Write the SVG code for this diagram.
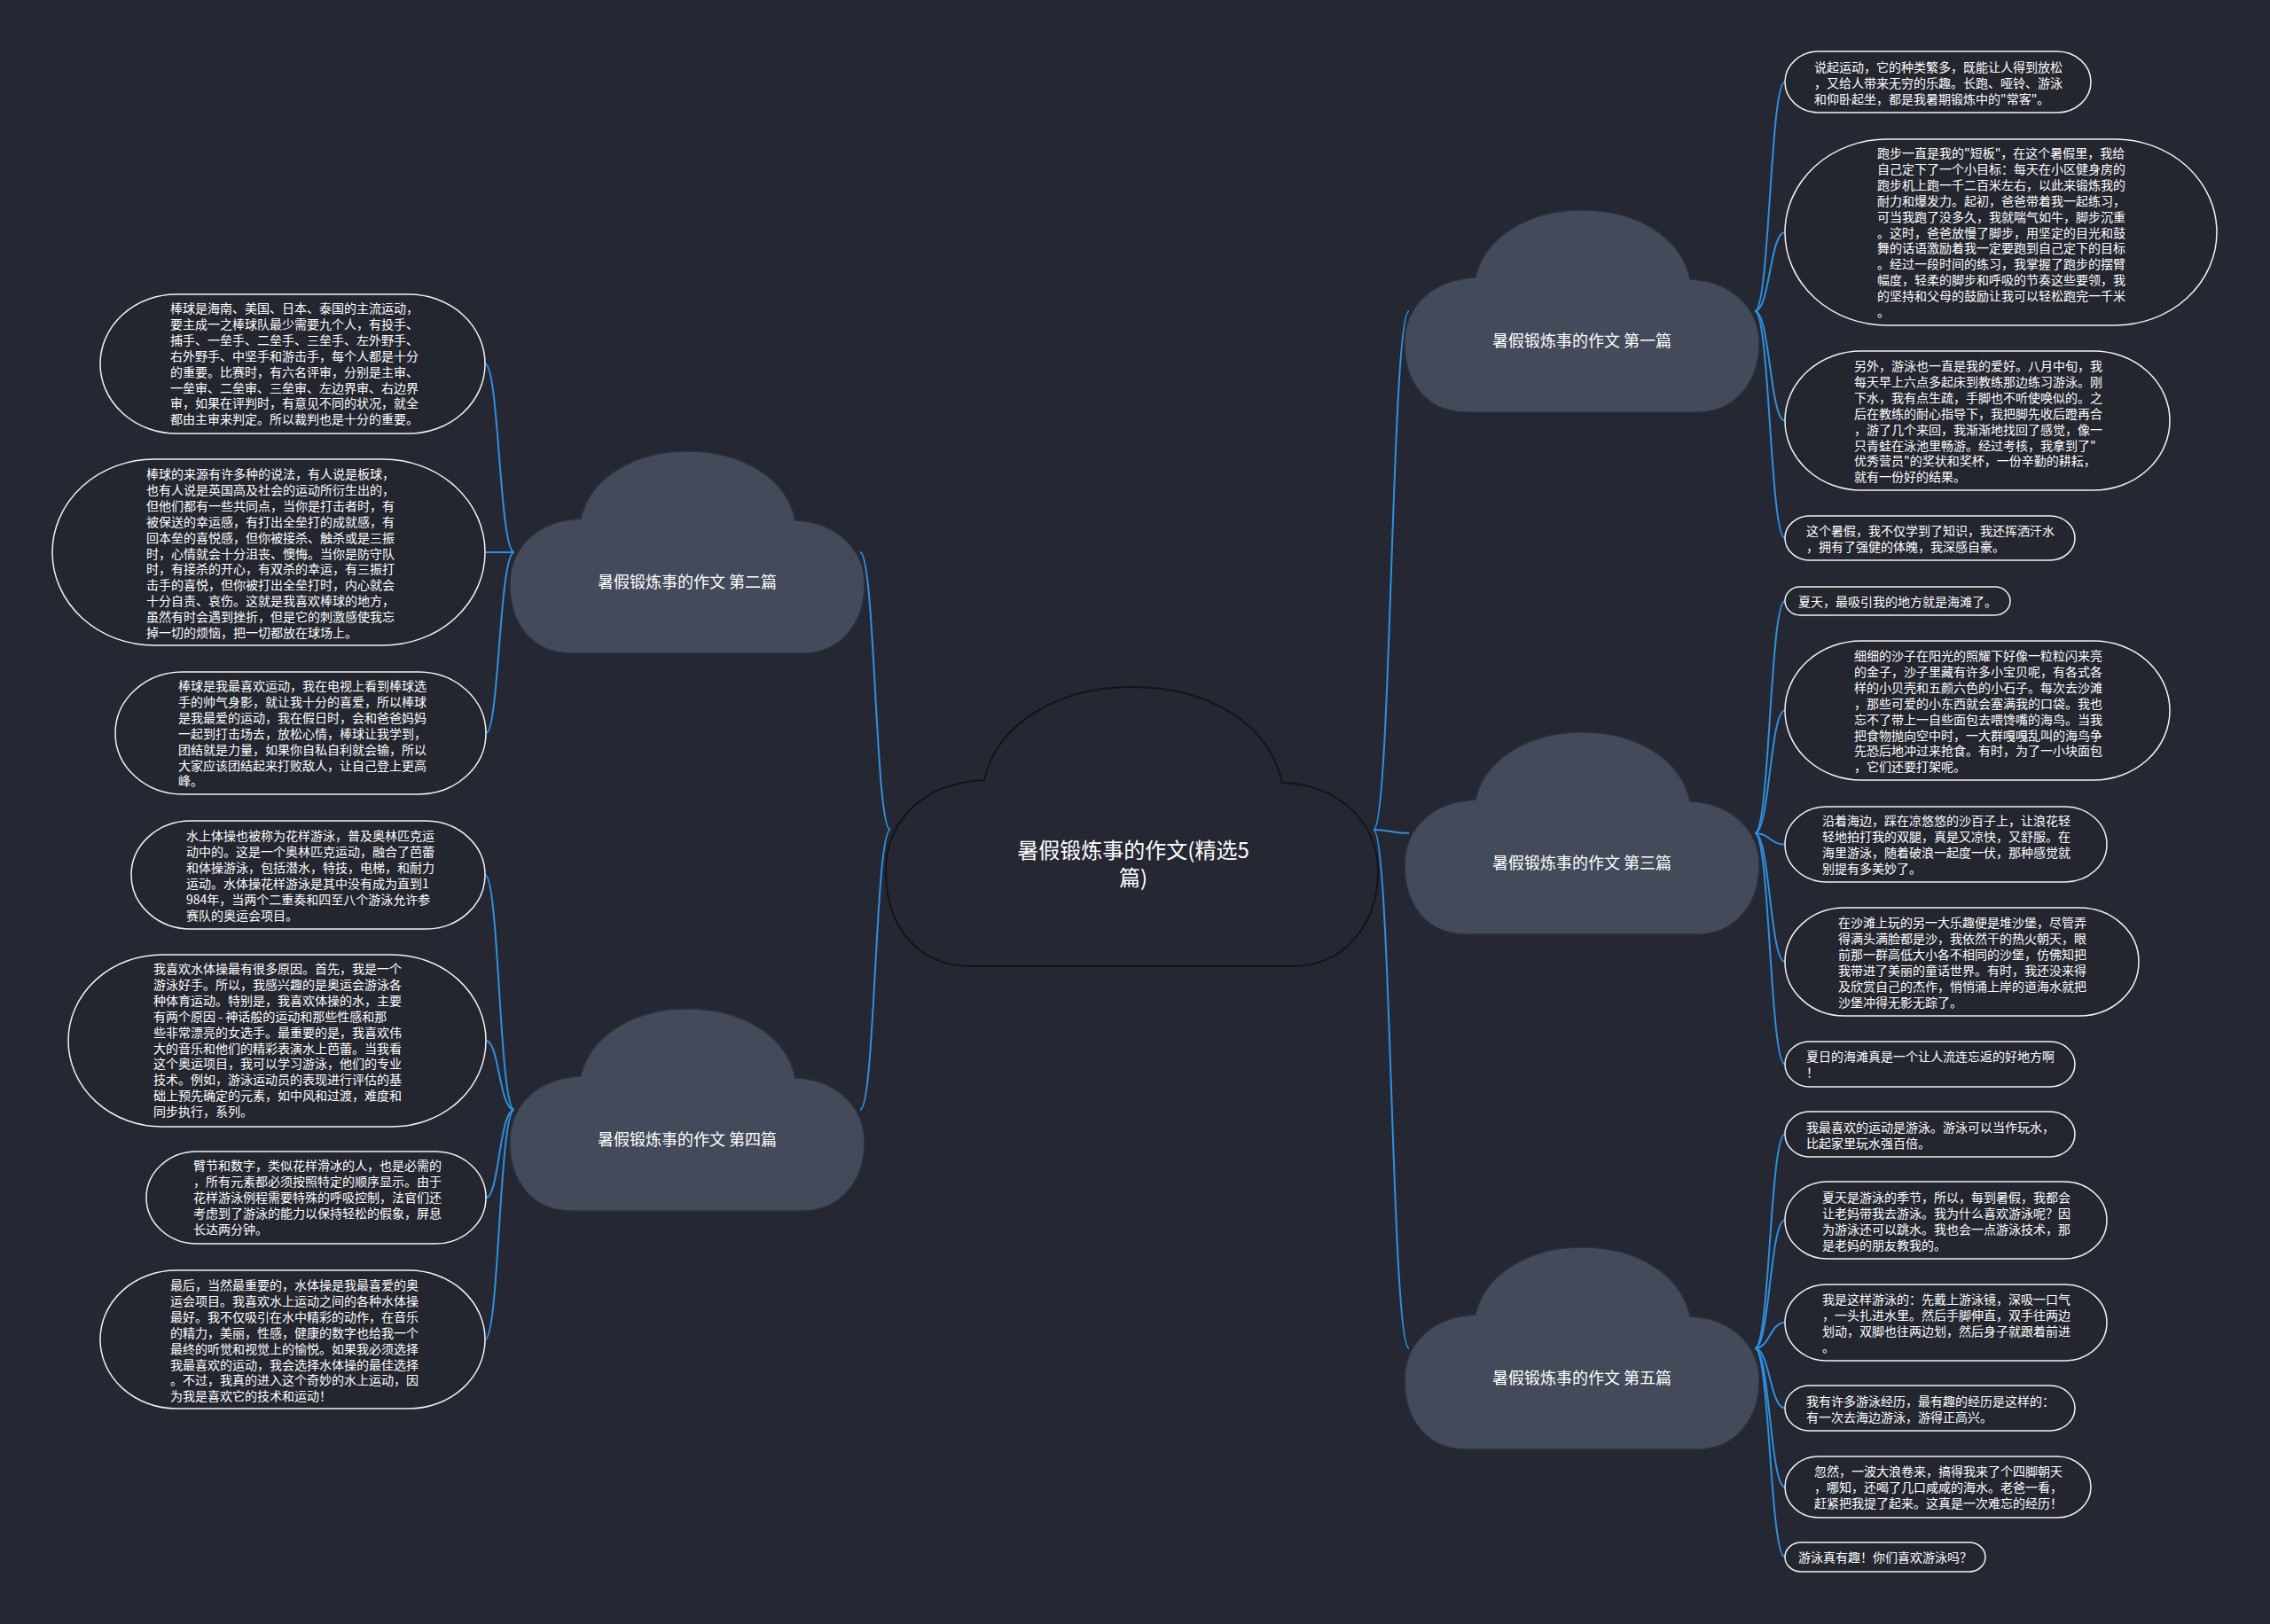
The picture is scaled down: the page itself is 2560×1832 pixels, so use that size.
<svg xmlns="http://www.w3.org/2000/svg" width="2560" height="1832" viewBox="0 0 2560 1832">
<defs>
<style>
.bg{fill:#252833}
.cloud{fill:#434a5a;stroke:#2b303c;stroke-width:1.5}
.ccloud{fill:#252833;stroke:#121419;stroke-width:2}
.leaf{fill:#23262f;stroke:#f2f2f2;stroke-width:1.5}
.lt{font-family:"Noto Sans CJK SC","Noto Sans",sans-serif;font-size:14px;fill:#ffffff}
.cl{font-family:"Noto Sans CJK SC","Noto Sans",sans-serif;font-size:18px;fill:#ffffff;text-anchor:middle}
.ct{font-family:"Noto Sans CJK SC","Noto Sans",sans-serif;font-size:24px;fill:#ffffff;text-anchor:middle}
.edge{fill:none;stroke:#2f8fe0;stroke-width:2}
</style>
<path id="cloudShape" d="M 70,228 C 25,228 0,195 0,150 C 0,108 32,78 80,76 C 90,30 140,0 200,0 C 262,0 312,30 322,78 C 370,80 400,112 400,150 C 400,195 372,228 330,228 Z"/>
</defs>
<rect class="bg" x="0" y="0" width="2560" height="1832"/>

<g id="connectors">
<path class="edge" d="M 1549,936 C 1569,936 1569,351 1589,351"/>
<path class="edge" d="M 1549,936 C 1569,936 1569,940 1589,940"/>
<path class="edge" d="M 1549,936 C 1569,936 1569,1521 1589,1521"/>
<path class="edge" d="M 1004,936 C 987,936 987,623 970,623"/>
<path class="edge" d="M 1004,936 C 987,936 987,1252 970,1252"/>

<path class="edge" d="M 1979,351 C 1996,351 1996,92.5 2013,92.5"/>
<path class="edge" d="M 1979,351 C 1996,351 1996,262 2013,262"/>
<path class="edge" d="M 1979,351 C 1996,351 1996,474.5 2013,474.5"/>
<path class="edge" d="M 1979,351 C 1996,351 1996,607 2013,607"/>

<path class="edge" d="M 1979,940 C 1996,940 1996,678 2013,678"/>
<path class="edge" d="M 1979,940 C 1996,940 1996,801.5 2013,801.5"/>
<path class="edge" d="M 1979,940 C 1996,940 1996,952.5 2013,952.5"/>
<path class="edge" d="M 1979,940 C 1996,940 1996,1085 2013,1085"/>
<path class="edge" d="M 1979,940 C 1996,940 1996,1200.5 2013,1200.5"/>

<path class="edge" d="M 1979,1521 C 1996,1521 1996,1279.5 2013,1279.5"/>
<path class="edge" d="M 1979,1521 C 1996,1521 1996,1376.5 2013,1376.5"/>
<path class="edge" d="M 1979,1521 C 1996,1521 1996,1492 2013,1492"/>
<path class="edge" d="M 1979,1521 C 1996,1521 1996,1588.5 2013,1588.5"/>
<path class="edge" d="M 1979,1521 C 1996,1521 1996,1677.5 2013,1677.5"/>
<path class="edge" d="M 1979,1521 C 1996,1521 1996,1756.5 2013,1756.5"/>

<path class="edge" d="M 580,623 C 563,623 563,410.5 547,410.5"/>
<path class="edge" d="M 580,623 C 563,623 563,623 547,623"/>
<path class="edge" d="M 580,623 C 563,623 563,827 548,827"/>

<path class="edge" d="M 580,1252 C 563,1252 563,987 547,987"/>
<path class="edge" d="M 580,1252 C 563,1252 563,1174 548,1174"/>
<path class="edge" d="M 580,1252 C 563,1252 563,1351 548,1351"/>
<path class="edge" d="M 580,1252 C 563,1252 563,1511 547,1511"/>
</g>

<g id="center">
<path class="ccloud" transform="translate(999,775) scale(1.3875,1.3816)" vector-effect="non-scaling-stroke" d="M 70,228 C 25,228 0,195 0,150 C 0,108 32,78 80,76 C 90,30 140,0 200,0 C 262,0 312,30 322,78 C 370,80 400,112 400,150 C 400,195 372,228 330,228 Z"/>
<text class="ct" x="1278" y="968">暑假锻炼事的作文(精选5</text>
<text class="ct" x="1278" y="999">篇)</text>
</g>

<g id="branch1">
<use href="#cloudShape" class="cloud" transform="translate(1584,237)"/>
<text class="cl" x="1784" y="391">暑假锻炼事的作文 第一篇</text>
</g>
<g id="branch3">
<use href="#cloudShape" class="cloud" transform="translate(1584,826)"/>
<text class="cl" x="1784" y="980">暑假锻炼事的作文 第三篇</text>
</g>
<g id="branch5">
<use href="#cloudShape" class="cloud" transform="translate(1584,1407)"/>
<text class="cl" x="1784" y="1561">暑假锻炼事的作文 第五篇</text>
</g>
<g id="branch2">
<use href="#cloudShape" class="cloud" transform="translate(575,509)"/>
<text class="cl" x="775" y="663">暑假锻炼事的作文 第二篇</text>
</g>
<g id="branch4">
<use href="#cloudShape" class="cloud" transform="translate(575,1138)"/>
<text class="cl" x="775" y="1292">暑假锻炼事的作文 第四篇</text>
</g>

<g id="leaf-r1-1">
<rect class="leaf" x="2013" y="58" width="345" height="69" rx="38" ry="34.5"/>
<text class="lt" x="2046" y="81"><tspan x="2046" dy="0">说起运动，它的种类繁多，既能让人得到放松</tspan><tspan x="2046" dy="17.9">，又给人带来无穷的乐趣。长跑、哑铃、游泳</tspan><tspan x="2046" dy="17.9">和仰卧起坐，都是我暑期锻炼中的"常客"。</tspan></text>
</g>
<g id="leaf-r1-2">
<rect class="leaf" x="2013" y="157" width="487" height="210" rx="115" ry="105"/>
<text class="lt" x="2117" y="178"><tspan x="2117" dy="0">跑步一直是我的"短板"，在这个暑假里，我给</tspan><tspan x="2117" dy="17.9">自己定下了一个小目标：每天在小区健身房的</tspan><tspan x="2117" dy="17.9">跑步机上跑一千二百米左右，以此来锻炼我的</tspan><tspan x="2117" dy="17.9">耐力和爆发力。起初，爸爸带着我一起练习，</tspan><tspan x="2117" dy="17.9">可当我跑了没多久，我就喘气如牛，脚步沉重</tspan><tspan x="2117" dy="17.9">。这时，爸爸放慢了脚步，用坚定的目光和鼓</tspan><tspan x="2117" dy="17.9">舞的话语激励着我一定要跑到自己定下的目标</tspan><tspan x="2117" dy="17.9">。经过一段时间的练习，我掌握了跑步的摆臂</tspan><tspan x="2117" dy="17.9">幅度，轻柔的脚步和呼吸的节奏这些要领，我</tspan><tspan x="2117" dy="17.9">的坚持和父母的鼓励让我可以轻松跑完一千米</tspan><tspan x="2117" dy="17.9">。</tspan></text>
</g>
<g id="leaf-r1-3">
<rect class="leaf" x="2013" y="396" width="434" height="157" rx="86" ry="78.5"/>
<text class="lt" x="2091" y="418"><tspan x="2091" dy="0">另外，游泳也一直是我的爱好。八月中旬，我</tspan><tspan x="2091" dy="17.9">每天早上六点多起床到教练那边练习游泳。刚</tspan><tspan x="2091" dy="17.9">下水，我有点生疏，手脚也不听使唤似的。之</tspan><tspan x="2091" dy="17.9">后在教练的耐心指导下，我把脚先收后蹬再合</tspan><tspan x="2091" dy="17.9">，游了几个来回，我渐渐地找回了感觉，像一</tspan><tspan x="2091" dy="17.9">只青蛙在泳池里畅游。经过考核，我拿到了"</tspan><tspan x="2091" dy="17.9">优秀营员"的奖状和奖杯，一份辛勤的耕耘，</tspan><tspan x="2091" dy="17.9">就有一份好的结果。</tspan></text>
</g>
<g id="leaf-r1-4">
<rect class="leaf" x="2013" y="582" width="327" height="50" rx="28" ry="25"/>
<text class="lt" x="2037" y="604"><tspan x="2037" dy="0">这个暑假，我不仅学到了知识，我还挥洒汗水</tspan><tspan x="2037" dy="17.9">，拥有了强健的体魄，我深感自豪。</tspan></text>
</g>

<g id="leaf-r3-1">
<rect class="leaf" x="2013" y="662" width="254" height="32" rx="17" ry="16"/>
<text class="lt" x="2028" y="684">夏天，最吸引我的地方就是海滩了。</text>
</g>
<g id="leaf-r3-2">
<rect class="leaf" x="2013" y="723" width="434" height="157" rx="86" ry="78.5"/>
<text class="lt" x="2091" y="745"><tspan x="2091" dy="0">细细的沙子在阳光的照耀下好像一粒粒闪来亮</tspan><tspan x="2091" dy="17.9">的金子，沙子里藏有许多小宝贝呢，有各式各</tspan><tspan x="2091" dy="17.9">样的小贝壳和五颜六色的小石子。每次去沙滩</tspan><tspan x="2091" dy="17.9">，那些可爱的小东西就会塞满我的口袋。我也</tspan><tspan x="2091" dy="17.9">忘不了带上一自些面包去喂馋嘴的海鸟。当我</tspan><tspan x="2091" dy="17.9">把食物抛向空中时，一大群嘎嘎乱叫的海鸟争</tspan><tspan x="2091" dy="17.9">先恐后地冲过来抢食。有时，为了一小块面包</tspan><tspan x="2091" dy="17.9">，它们还要打架呢。</tspan></text>
</g>
<g id="leaf-r3-3">
<rect class="leaf" x="2013" y="910" width="363" height="85" rx="47" ry="42.5"/>
<text class="lt" x="2055" y="931"><tspan x="2055" dy="0">沿着海边，踩在凉悠悠的沙百子上，让浪花轻</tspan><tspan x="2055" dy="17.9">轻地拍打我的双腿，真是又凉快，又舒服。在</tspan><tspan x="2055" dy="17.9">海里游泳，随着破浪一起度一伏，那种感觉就</tspan><tspan x="2055" dy="17.9">别提有多美妙了。</tspan></text>
</g>
<g id="leaf-r3-4">
<rect class="leaf" x="2013" y="1024" width="399" height="122" rx="67" ry="61"/>
<text class="lt" x="2073" y="1046"><tspan x="2073" dy="0">在沙滩上玩的另一大乐趣便是堆沙堡，尽管弄</tspan><tspan x="2073" dy="17.9">得满头满脸都是沙，我依然干的热火朝天，眼</tspan><tspan x="2073" dy="17.9">前那一群高低大小各不相同的沙堡，仿佛知把</tspan><tspan x="2073" dy="17.9">我带进了美丽的童话世界。有时，我还没来得</tspan><tspan x="2073" dy="17.9">及欣赏自己的杰作，悄悄涌上岸的道海水就把</tspan><tspan x="2073" dy="17.9">沙堡冲得无影无踪了。</tspan></text>
</g>
<g id="leaf-r3-5">
<rect class="leaf" x="2013" y="1175" width="327" height="51" rx="28" ry="25.5"/>
<text class="lt" x="2037" y="1197"><tspan x="2037" dy="0">夏日的海滩真是一个让人流连忘返的好地方啊</tspan><tspan x="2037" dy="17.9">！</tspan></text>
</g>

<g id="leaf-r5-1">
<rect class="leaf" x="2013" y="1254" width="327" height="51" rx="28" ry="25.5"/>
<text class="lt" x="2037" y="1277"><tspan x="2037" dy="0">我最喜欢的运动是游泳。游泳可以当作玩水，</tspan><tspan x="2037" dy="17.9">比起家里玩水强百倍。</tspan></text>
</g>
<g id="leaf-r5-2">
<rect class="leaf" x="2013" y="1333" width="363" height="87" rx="48" ry="43.5"/>
<text class="lt" x="2055" y="1356"><tspan x="2055" dy="0">夏天是游泳的季节，所以，每到暑假，我都会</tspan><tspan x="2055" dy="17.9">让老妈带我去游泳。我为什么喜欢游泳呢？因</tspan><tspan x="2055" dy="17.9">为游泳还可以跳水。我也会一点游泳技术，那</tspan><tspan x="2055" dy="17.9">是老妈的朋友教我的。</tspan></text>
</g>
<g id="leaf-r5-3">
<rect class="leaf" x="2013" y="1449" width="363" height="86" rx="47" ry="43"/>
<text class="lt" x="2055" y="1471"><tspan x="2055" dy="0">我是这样游泳的：先戴上游泳镜，深吸一口气</tspan><tspan x="2055" dy="17.9">，一头扎进水里。然后手脚伸直，双手往两边</tspan><tspan x="2055" dy="17.9">划动，双脚也往两边划，然后身子就跟着前进</tspan><tspan x="2055" dy="17.9">。</tspan></text>
</g>
<g id="leaf-r5-4">
<rect class="leaf" x="2013" y="1563" width="327" height="51" rx="28" ry="25.5"/>
<text class="lt" x="2037" y="1586"><tspan x="2037" dy="0">我有许多游泳经历，最有趣的经历是这样的：</tspan><tspan x="2037" dy="17.9">有一次去海边游泳，游得正高兴。</tspan></text>
</g>
<g id="leaf-r5-5">
<rect class="leaf" x="2013" y="1643" width="345" height="69" rx="38" ry="34.5"/>
<text class="lt" x="2046" y="1665"><tspan x="2046" dy="0">忽然，一波大浪卷来，搞得我来了个四脚朝天</tspan><tspan x="2046" dy="17.9">，哪知，还喝了几口咸咸的海水。老爸一看，</tspan><tspan x="2046" dy="17.9">赶紧把我提了起来。这真是一次难忘的经历！</tspan></text>
</g>
<g id="leaf-r5-6">
<rect class="leaf" x="2013" y="1740" width="226" height="33" rx="18" ry="16.5"/>
<text class="lt" x="2028" y="1762">游泳真有趣！你们喜欢游泳吗？</text>
</g>

<g id="leaf-l2-1">
<rect class="leaf" x="113" y="332" width="434" height="157" rx="86" ry="78.5"/>
<text class="lt" x="192" y="353"><tspan x="192" dy="0">棒球是海南、美国、日本、泰国的主流运动，</tspan><tspan x="192" dy="17.9">要主成一之棒球队最少需要九个人，有投手、</tspan><tspan x="192" dy="17.9">捕手、一垒手、二垒手、三垒手、左外野手、</tspan><tspan x="192" dy="17.9">右外野手、中坚手和游击手，每个人都是十分</tspan><tspan x="192" dy="17.9">的重要。比赛时，有六名评审，分别是主审、</tspan><tspan x="192" dy="17.9">一垒审、二垒审、三垒审、左边界审、右边界</tspan><tspan x="192" dy="17.9">审，如果在评判时，有意见不同的状况，就全</tspan><tspan x="192" dy="17.9">都由主审来判定。所以裁判也是十分的重要。</tspan></text>
</g>
<g id="leaf-l2-2">
<rect class="leaf" x="59" y="518" width="488" height="210" rx="115" ry="105"/>
<text class="lt" x="165" y="540"><tspan x="165" dy="0">棒球的来源有许多种的说法，有人说是板球，</tspan><tspan x="165" dy="17.9">也有人说是英国高及社会的运动所衍生出的，</tspan><tspan x="165" dy="17.9">但他们都有一些共同点，当你是打击者时，有</tspan><tspan x="165" dy="17.9">被保送的幸运感，有打出全垒打的成就感，有</tspan><tspan x="165" dy="17.9">回本垒的喜悦感，但你被接杀、触杀或是三振</tspan><tspan x="165" dy="17.9">时，心情就会十分沮丧、懊悔。当你是防守队</tspan><tspan x="165" dy="17.9">时，有接杀的开心，有双杀的幸运，有三振打</tspan><tspan x="165" dy="17.9">击手的喜悦，但你被打出全垒打时，内心就会</tspan><tspan x="165" dy="17.9">十分自责、哀伤。这就是我喜欢棒球的地方，</tspan><tspan x="165" dy="17.9">虽然有时会遇到挫折，但是它的刺激感使我忘</tspan><tspan x="165" dy="17.9">掉一切的烦恼，把一切都放在球场上。</tspan></text>
</g>
<g id="leaf-l2-3">
<rect class="leaf" x="130" y="758" width="418" height="138" rx="76" ry="69"/>
<text class="lt" x="201" y="779"><tspan x="201" dy="0">棒球是我最喜欢运动，我在电视上看到棒球选</tspan><tspan x="201" dy="17.9">手的帅气身影，就让我十分的喜爱，所以棒球</tspan><tspan x="201" dy="17.9">是我最爱的运动，我在假日时，会和爸爸妈妈</tspan><tspan x="201" dy="17.9">一起到打击场去，放松心情，棒球让我学到，</tspan><tspan x="201" dy="17.9">团结就是力量，如果你自私自利就会输，所以</tspan><tspan x="201" dy="17.9">大家应该团结起来打败敌人，让自己登上更高</tspan><tspan x="201" dy="17.9">峰。</tspan></text>
</g>

<g id="leaf-l4-1">
<rect class="leaf" x="148" y="926" width="399" height="122" rx="67" ry="61"/>
<text class="lt" x="210" y="948"><tspan x="210" dy="0">水上体操也被称为花样游泳，普及奥林匹克运</tspan><tspan x="210" dy="17.9">动中的。这是一个奥林匹克运动，融合了芭蕾</tspan><tspan x="210" dy="17.9">和体操游泳，包括潜水，特技，电梯，和耐力</tspan><tspan x="210" dy="17.9">运动。水体操花样游泳是其中没有成为直到1</tspan><tspan x="210" dy="17.9">984年，当两个二重奏和四至八个游泳允许参</tspan><tspan x="210" dy="17.9">赛队的奥运会项目。</tspan></text>
</g>
<g id="leaf-l4-2">
<rect class="leaf" x="77" y="1077" width="471" height="194" rx="106" ry="97"/>
<text class="lt" x="173" y="1098"><tspan x="173" dy="0">我喜欢水体操最有很多原因。首先，我是一个</tspan><tspan x="173" dy="17.9">游泳好手。所以，我感兴趣的是奥运会游泳各</tspan><tspan x="173" dy="17.9">种体育运动。特别是，我喜欢体操的水，主要</tspan><tspan x="173" dy="17.9">有两个原因 - 神话般的运动和那些性感和那</tspan><tspan x="173" dy="17.9">些非常漂亮的女选手。最重要的是，我喜欢伟</tspan><tspan x="173" dy="17.9">大的音乐和他们的精彩表演水上芭蕾。当我看</tspan><tspan x="173" dy="17.9">这个奥运项目，我可以学习游泳，他们的专业</tspan><tspan x="173" dy="17.9">技术。例如，游泳运动员的表现进行评估的基</tspan><tspan x="173" dy="17.9">础上预先确定的元素，如中风和过渡，难度和</tspan><tspan x="173" dy="17.9">同步执行，系列。</tspan></text>
</g>
<g id="leaf-l4-3">
<rect class="leaf" x="165" y="1299" width="383" height="104" rx="57" ry="52"/>
<text class="lt" x="218" y="1320"><tspan x="218" dy="0">臂节和数字，类似花样滑冰的人，也是必需的</tspan><tspan x="218" dy="17.9">，所有元素都必须按照特定的顺序显示。由于</tspan><tspan x="218" dy="17.9">花样游泳例程需要特殊的呼吸控制，法官们还</tspan><tspan x="218" dy="17.9">考虑到了游泳的能力以保持轻松的假象，屏息</tspan><tspan x="218" dy="17.9">长达两分钟。</tspan></text>
</g>
<g id="leaf-l4-4">
<rect class="leaf" x="113" y="1433" width="434" height="156" rx="86" ry="78"/>
<text class="lt" x="192" y="1455"><tspan x="192" dy="0">最后，当然最重要的，水体操是我最喜爱的奥</tspan><tspan x="192" dy="17.9">运会项目。我喜欢水上运动之间的各种水体操</tspan><tspan x="192" dy="17.9">最好。我不仅吸引在水中精彩的动作，在音乐</tspan><tspan x="192" dy="17.9">的精力，美丽，性感，健康的数字也给我一个</tspan><tspan x="192" dy="17.9">最终的听觉和视觉上的愉悦。如果我必须选择</tspan><tspan x="192" dy="17.9">我最喜欢的运动，我会选择水体操的最佳选择</tspan><tspan x="192" dy="17.9">。不过，我真的进入这个奇妙的水上运动，因</tspan><tspan x="192" dy="17.9">为我是喜欢它的技术和运动！</tspan></text>
</g>
</svg>
